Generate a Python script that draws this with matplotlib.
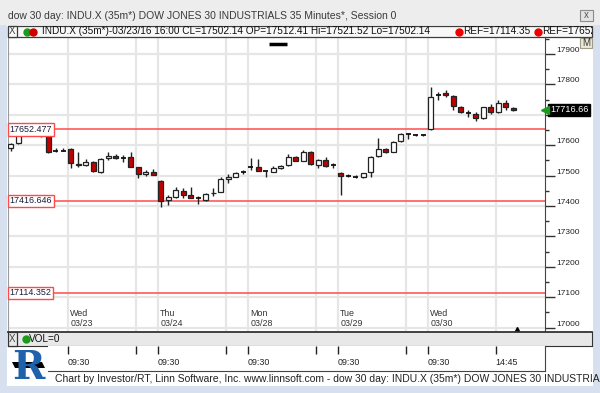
import matplotlib
matplotlib.use("Agg")
import matplotlib.pyplot as plt
import matplotlib.transforms as mtransforms
from matplotlib.patches import Rectangle, Polygon
from matplotlib.lines import Line2D

# ---- data (35 minute bars, 03/22 partial .. 03/30) ----
opens = [17590, 17606, 17642, 17634, 17630, 17636, 17582, 17582,
         17588, 17537, 17535, 17546, 17513, 17557, 17565, 17560, 17560, 17527, 17504, 17512.41,
         17483, 17420, 17429, 17450, 17437, 17426, 17420, 17442, 17445, 17488, 17497, 17512,
         17528, 17529, 17516, 17513, 17524, 17535, 17560, 17549, 17577, 17535, 17551, 17534,
         17508, 17500, 17497, 17495, 17511, 17566, 17588, 17579, 17614, 17637, 17634, 17634,
         17652, 17765, 17771, 17762, 17727, 17707, 17703, 17689, 17725, 17708, 17738, 17723]
highs = [17608, 17640, 17652, 17638, 17636, 17650, 17590, 17590,
         17591, 17579, 17555, 17548, 17557, 17579, 17570, 17568, 17579, 17530, 17518, 17521.52,
         17485, 17436, 17464, 17461, 17464, 17432, 17444, 17458, 17496, 17505, 17511, 17518,
         17559, 17555, 17516, 17532, 17535, 17570, 17563, 17585, 17580, 17555, 17562, 17542,
         17512, 17504, 17501, 17510, 17565, 17623, 17591, 17614, 17640, 17641, 17637, 17637,
         17792, 17776, 17782, 17764, 17729, 17716, 17710, 17727, 17735, 17749, 17749, 17726]
lows = [17582, 17604, 17638, 17631, 17626, 17575, 17579, 17580,
        17525, 17529, 17532, 17513, 17508, 17550, 17555, 17546, 17527, 17492, 17500, 17502.14,
        17398, 17403, 17425, 17428, 17425, 17406, 17418, 17433, 17445, 17476, 17494, 17506,
        17519, 17514, 17494, 17511, 17522, 17533, 17547, 17547, 17535, 17526, 17530, 17524,
        17436, 17494, 17493, 17493, 17494, 17562, 17576, 17577, 17612, 17620, 17630, 17630,
        17651, 17748, 17760, 17716, 17706, 17694, 17681, 17687, 17703, 17706, 17716, 17714]
closes = [17603, 17636, 17646, 17634, 17630, 17579, 17582, 17582,
          17543, 17535, 17546, 17515, 17555, 17565, 17557, 17559, 17529, 17505, 17513, 17502.14,
          17418, 17429, 17453, 17437, 17428, 17426, 17440, 17444, 17488, 17497, 17508, 17513,
          17529, 17516, 17515, 17524, 17533, 17560, 17549, 17577, 17537, 17551, 17532, 17534,
          17500, 17500, 17497, 17508, 17562, 17588, 17579, 17612, 17636, 17637, 17634, 17634,
          17760, 17765, 17765, 17730, 17710, 17707, 17689, 17725, 17708, 17740, 17725, 17716.66]
first_idx = -8          # bar index of the first bar (0 = 03/23 09:30)

day_names = ["Wed", "Thu", "Mon", "Tue", "Wed"]
day_dates = ["03/23", "03/24", "03/28", "03/29", "03/30"]
day_start = [0, 12, 24, 36, 48]
bars_to_1445 = 9
ref_levels = [17652.477, 17416.646, 17114.352]
price_ticks = [17000, 17100, 17200, 17300, 17400, 17500, 17600, 17700, 17800, 17900]

title = "dow 30 day: INDU.X (35m*) DOW JONES 30 INDUSTRIALS 35 Minutes*, Session 0"
info = "INDU.X (35m*)-03/23/16 16:00 CL=17502.14 OP=17512.41 Hi=17521.52 Lo=17502.14"
footer = ("Chart by Investor/RT, Linn Software, Inc. www.linnsoft.com - "
          "dow 30 day: INDU.X (35m*) DOW JONES 30 INDUSTRIA")

# ---- layout helpers (pixel coords of a 600x393 image) ----
W, H = 600, 393
def rect(x0, y0, x1, y1):
    return [x0 / W, 1 - y1 / H, (x1 - x0) / W, (y1 - y0) / H]
def fx(x):
    return x / W
def fy(y):
    return 1 - y / H
def box(x0, y0, x1, y1, fc, ec="none", lw=0, z=-5):
    fig.patches.append(Rectangle((fx(x0), fy(y1)), (x1 - x0) / W, (y1 - y0) / H,
                                 transform=fig.transFigure, fc=fc, ec=ec, lw=lw, zorder=z))

plt.rcParams["font.family"] = ["Liberation Sans", "DejaVu Sans"]
fig = plt.figure(figsize=(6, 3.93), dpi=100)
fig.patch.set_facecolor("#ededed")

frame = "#d6e0ee"
box(7, 25, 593, 386, "white")
box(0, 25, 7, 393, frame)
box(593, 25, 600, 393, frame)
box(0, 386, 600, 393, frame)

fig.text(fx(8), fy(16), title, fontsize=7.5, color="#3a3a3a", va="center")
box(580, 10, 593, 21, "#e4e4e4", "#8a8a8a", 0.8)
fig.text(fx(586.5), fy(15.5), "x", fontsize=7, color="#555", ha="center", va="center")

# info strip
box(8, 26, 592, 37, "#f8f8f8", "#3c3c3c", 0.9, z=2)
box(8, 26, 17, 37, "#f8f8f8", "#3c3c3c", 0.9, z=2)
fig.text(fx(12.5), fy(31.5), "X", fontsize=7, color="#444", ha="center", va="center", zorder=3)
for x, c in [(27, "#1b9a1b"), (33, "#cc0000"), (459, "#ee0000"), (538, "#ee0000")]:
    fig.add_artist(Line2D([fx(x)], [fy(31.5)], marker="o", ms=5, color=c,
                          transform=fig.transFigure, zorder=3))
fig.text(fx(42), fy(31.5), info, fontsize=7.2, color="#111", va="center", zorder=3)
fig.text(fx(463), fy(31.5), "REF=17114.35", fontsize=7.2, color="#111", va="center", zorder=3)
ref2 = fig.text(fx(542), fy(31.5), "REF=17652", fontsize=7.2, color="#111", va="center",
                zorder=3)
ref2.set_clip_path(Rectangle((fx(8), fy(37)), 584 / W, 11 / H, transform=fig.transFigure))

# ---- price panel ----
ax = fig.add_axes(rect(8, 37, 545, 332))
ax.set_facecolor("white")
px0, step = 70.7, 7.5
ax.set_xlim((8 - px0) / step, (545 - px0) / step)
ax.set_ylim(17000 + (327.7 - 332) / 0.3041, 17000 + (327.7 - 37) / 0.3041)

xs = list(range(first_idx, first_idx + len(closes)))
grid_x = sorted([d - 0.35 for d in day_start] + [d + bars_to_1445 - 0.35 for d in day_start])
ax.set_xticks(grid_x)
ax.tick_params(axis="x", length=0, labelbottom=False)
ax.set_axisbelow(True)
ax.grid(True, color="#e6e6e6", lw=1.6)

last = closes[-1]
ax.yaxis.tick_right()
# the last-price box hides the tick label underneath it
ax.set_yticks(price_ticks, [str(p) if abs(p - last) > 40 else "" for p in price_ticks])
ax.set_yticks([p + 50 for p in price_ticks], minor=True)
ax.tick_params(axis="y", which="major", length=7, width=1, color="#333", pad=1.5,
               labelsize=6.0, labelcolor="#222")
ax.tick_params(axis="y", which="minor", length=3, width=1, color="#333")
plt.setp(ax.get_yticklabels(), va="bottom")
for s in ["top", "bottom"]:
    ax.spines[s].set_visible(False)
ax.spines["left"].set_color("#9a9a9a")
ax.spines["right"].set_color("#444")

yb = mtransforms.blended_transform_factory(ax.transAxes, ax.transData)
for lvl in ref_levels:
    ax.axhline(lvl, color="#ff4a4a", lw=1.1, zorder=2)
    ax.text(0.003, lvl, f"{lvl:.3f}", transform=yb, fontsize=6.4, color="#1a1a3a",
            ha="left", va="center", zorder=5,
            bbox=dict(boxstyle="square,pad=0.2", fc="white", ec="#ff4a4a", lw=1))

# candles
bw = 0.68
for x, o, h, l, c in zip(xs, opens, highs, lows, closes):
    ax.vlines(x, l, h, color="#222", lw=1, zorder=3)
    if abs(c - o) < 1.5:
        ax.hlines(c, x - bw / 2, x + bw / 2, color="#111", lw=1.3, zorder=4)
    else:
        ax.bar(x, abs(c - o), bottom=min(o, c), width=bw, zorder=4, lw=0.9,
               color="white" if c > o else "#c20000", edgecolor="#222")

xb = mtransforms.blended_transform_factory(ax.transData, ax.transAxes)
for d, nm, dt in zip(day_start, day_names, day_dates):
    ax.text(d - 0.05, 0.012, f"{nm}\n{dt}", transform=xb, fontsize=6.4, color="#333",
            ha="left", va="bottom", linespacing=1.15)

ax.plot([1.0], [last], transform=yb, marker="<", ms=5.5, color="#1b9a1b",
        clip_on=False, zorder=6)
ax.annotate(f"{last:.2f}", xy=(1.0, last), xycoords=yb, xytext=(3.5, 0),
            textcoords="offset points", fontsize=6.6, color="white", ha="left",
            va="center", annotation_clip=False,
            bbox=dict(boxstyle="square,pad=0.15", fc="black", ec="black"))
ax.plot([xs[-1] + 0.45], [0.008], transform=xb, marker="^", ms=4, color="black",
        clip_on=False, zorder=6)
ax.plot([26.4, 28.8], [0.975, 0.975], transform=xb, color="black", lw=2.5,
        solid_capstyle="butt", zorder=6)

box(580, 38, 592, 48, "#ece8d8", "#a09a88", 0.8, z=3)
fig.text(fx(586), fy(43.3), "M", fontsize=7, color="#333", ha="center", va="center", zorder=4)

# ---- volume strip ----
vax = fig.add_axes(rect(8, 332, 592, 346))
vax.set_facecolor("#e8e8e8")
vax.set_xticks([])
vax.set_yticks([])
for s in vax.spines.values():
    s.set_color("#333")
vax.spines["top"].set_linewidth(1.3)
box(8, 332, 17, 346, "#e8e8e8", "#333", 0.9, z=3)
fig.text(fx(12.5), fy(339), "X", fontsize=7, color="#444", ha="center", va="center", zorder=4)
fig.add_artist(Line2D([fx(26)], [fy(339)], marker="o", ms=5, color="#1b9a1b",
                      transform=fig.transFigure, zorder=4))
fig.text(fx(29), fy(339), "VOL=0", fontsize=7.2, color="#111", va="center", zorder=4)

# ---- time axis ----
tax = fig.add_axes(rect(48, 346, 545, 371))
tax.set_facecolor("white")
tax.set_xlim((48 - px0) / step, (545 - px0) / step)
tax.set_ylim(0, 1)
tax.set_yticks([])
tax.set_xticks(grid_x)
tlabels = ["09:30" if (g + 0.35) in day_start else "" for g in grid_x]
tlabels[-1] = "14:45"
tax.set_xticklabels(tlabels)
tax.tick_params(axis="x", top=True, bottom=False, labelbottom=True, direction="in",
                length=6, width=1, color="#222", pad=-9.5, labelsize=6.4, labelcolor="#222")
plt.setp(tax.get_xticklabels(), ha="left")
tax.spines["top"].set_visible(False)
tax.spines["left"].set_visible(False)
tax.spines["bottom"].set_color("#444")
tax.spines["right"].set_color("#444")

# footer + logo
fig.text(fx(55), fy(379), footer, fontsize=7.45, color="#222", va="center")
fig.text(fx(28), fy(368), "R", fontsize=28, fontweight="bold", family="DejaVu Serif",
         color="#1d62ab", ha="center", va="center")
fig.patches.append(Polygon([(fx(12), fy(362)), (fx(42), fy(362)), (fx(45), fy(368)),
                            (fx(15), fy(368))], closed=True, fc="black",
                           transform=fig.transFigure, zorder=3))

fig.savefig("out.png", dpi=100, facecolor=fig.get_facecolor())
